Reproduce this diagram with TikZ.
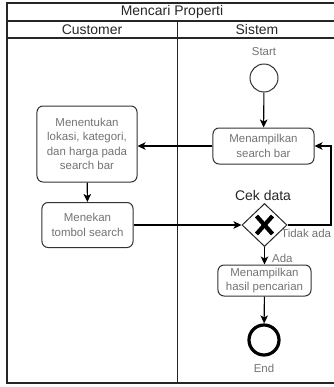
\documentclass[tikz,border=0pt]{standalone}
\usepackage{fontspec}
\setmainfont{Liberation Sans}
\usetikzlibrary{arrows.meta,shapes.geometric,calc}

\begin{document}
\begin{tikzpicture}[x=1bp,y=-1bp,
  lane/.style={draw=black!85, line width=1.3bp},
  head/.style={text=black!85, font=\fontsize{14}{16}\selectfont, inner sep=0pt},
  task/.style={draw=black!80, rounded corners=6bp, line width=1bp, text=black!55,
    align=center, font=\fontsize{11.5}{14.5}\selectfont, inner sep=0pt},
  lbl/.style={text=black!55, font=\fontsize{11.5}{14}\selectfont, inner sep=0pt},
  flow/.style={-{Stealth[length=8bp,width=7.5bp,inset=2bp]}, line width=1.1bp, draw=black},
  gate/.style={diamond, draw=black!85, line width=1bp, minimum width=45bp, minimum height=43bp, inner sep=0pt}
]
\useasboundingbox (0,0) rectangle (334,387);

% pool and lanes
\draw[lane] (7,3) rectangle (337,383);
\draw[lane] (7,21) -- (337,21);
\draw[lane] (7,38) -- (337,38);
\draw[lane] (177.5,21) -- (177.5,383);
\node[head] (pool) at (172,12) {Mencari Properti};
\node[head] (lanec) at (92,29.5) {Customer};
\node[head] (lanes) at (257,29.5) {Sistem};

% events
\node[circle, draw=black!80, line width=1bp, minimum size=28bp, inner sep=0pt] (start) at (264,78) {};
\node[lbl] (startl) at (264,52) {Start};
\node[circle, draw=black, line width=3.2bp, minimum size=30bp, inner sep=0pt] (end) at (264,340) {};
\node[lbl] (endl) at (264,368) {End};

% tasks
\node[task, minimum width=101bp, minimum height=36bp] (show) at (263.5,146) {Menampilkan\\search bar};
\node[task, minimum width=100bp, minimum height=76bp] (pick) at (87,144) {Menentukan\\lokasi, kategori,\\dan harga pada\\search bar};
\node[task, minimum width=91bp, minimum height=45bp] (press) at (87.5,225) {Menekan\\tombol search};
\node[task, minimum width=93bp, minimum height=31bp] (result) at (264.5,280.5) {Menampilkan\\hasil pencarian};

% exclusive gateway
\node[gate] (dec) at (264.5,225) {};
\draw[line width=4.2bp, line cap=butt] ($(dec.center)+(-8,-9)$) -- ($(dec.center)+(8,9)$);
\draw[line width=4.2bp, line cap=butt] ($(dec.center)+(8,-9)$) -- ($(dec.center)+(-8,9)$);
\node[font=\fontsize{14}{16}\selectfont, text=black!85, inner sep=0pt] (decl) at (263,196) {Cek data};

% flows
\coordinate (loop) at (331,225);
\draw[flow] (start) -- (show);
\draw[flow] (show.west) -- (show.west -| pick.east);
\draw[flow] (pick) -- (press);
\draw[flow] (press) -- (dec);
\draw[flow] (dec.east) -- (loop) |- (show.east);
\draw[flow] (dec) -- (result);
\draw[flow] (result) -- (end);
\node[lbl, anchor=west] (no) at (281,233) {Tidak ada};
\node[lbl, anchor=west] (yes) at (272,258) {Ada};
\end{tikzpicture}
\end{document}
